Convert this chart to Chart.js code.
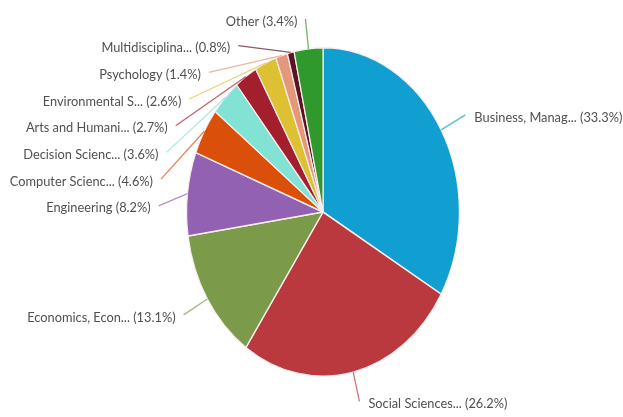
<!DOCTYPE html>
<html>
<head>
<meta charset="utf-8">
<title>Documents by subject area</title>
<script src="https://cdn.jsdelivr.net/npm/chart.js@4.4.0/dist/chart.umd.min.js"></script>
<style>
    html, body { margin: 0; padding: 0; background: #fff; }
    #wrap { width: 623px; height: 417px; }
</style>
</head>
<body>
<div id="wrap"><canvas id="subject-chart" width="623" height="417"></canvas></div>
<script>
// 数据
const subjectLabels = [
    'Business, Manag...', 'Social Sciences...', 'Economics, Econ...', 'Engineering',
    'Computer Scienc...', 'Decision Scienc...', 'Arts and Humani...', 'Environmental S...',
    'Psychology', 'Multidisciplina...', 'Other'
];
const subjectShares = [33.3, 26.2, 13.1, 8.2, 4.6, 3.6, 2.7, 2.6, 1.4, 0.8, 3.4];
const sliceColors = [
    '#119ed1', '#b9393f', '#7b9b4b', '#9261b2', '#da500b', '#82e2d3',
    '#a41f2d', '#dec133', '#e5977c', '#5b1421', '#2f992e'
];

// 饼图纵向拉伸比例
const stretchY = 1.204;

// 拉伸饼图（画成椭圆）
const stretchPlugin = {
    id: 'stretch',
    beforeDatasetsDraw(chart) {
        const arc = chart.getDatasetMeta(0).data[0];
        const ctx = chart.ctx;
        ctx.save();
        ctx.translate(arc.x, arc.y);
        ctx.scale(1, stretchY);
        ctx.translate(-arc.x, -arc.y);
    },
    afterDatasetsDraw(chart) {
        chart.ctx.restore();
    }
};

// 外部标签和引线
const outsideLabelPlugin = {
    id: 'outsideLabels',
    afterDraw(chart) {
        const ctx = chart.ctx;
        const arcs = chart.getDatasetMeta(0).data;
        const values = chart.data.datasets[0].data;
        const cx = arcs[0].x, cy = arcs[0].y;
        const rx = arcs[0].outerRadius, ry = rx * stretchY;
        const lx = rx + 28, ly = ry + 30;
        const spacing = 26.7;

        const items = arcs.map((arc, i) => {
            const mid = (arc.startAngle + arc.endAngle) / 2;
            const c = Math.cos(mid), s = Math.sin(mid);
            return {
                i: i,
                right: c >= 0,
                ex: cx + rx * c,
                ey: cy + ry * s,
                y: cy + ly * s
            };
        });

        // 每一侧按 y 排序并避免重叠
        [true, false].forEach(side => {
            const group = items.filter(it => it.right === side).sort((a, b) => a.y - b.y);
            for (let k = 1; k < group.length; k++) {
                group[k].y = Math.max(group[k].y, group[k - 1].y + spacing);
            }
        });

        ctx.save();
        ctx.font = '12.8px Lato, "Noto Sans", sans-serif';
        ctx.textBaseline = 'middle';
        items.forEach(it => {
            const dy = Math.max(-1, Math.min(1, (it.y - cy) / ly));
            const dx = lx * Math.sqrt(1 - dy * dy);
            const px = it.right ? cx + dx : cx - dx;

            ctx.strokeStyle = sliceColors[it.i];
            ctx.globalAlpha = 0.7;
            ctx.lineWidth = 1.3;
            ctx.beginPath();
            ctx.moveTo(it.ex, it.ey);
            ctx.lineTo(px, it.y);
            ctx.stroke();

            ctx.globalAlpha = 1;
            ctx.fillStyle = '#505050';
            ctx.textAlign = it.right ? 'left' : 'right';
            const text = subjectLabels[it.i] + ' (' + values[it.i].toFixed(1) + '%)';
            ctx.fillText(text, it.right ? px + 9 : px - 8, it.y + 2.5);
        });
        ctx.restore();
    }
};

new Chart(document.getElementById('subject-chart'), {
    type: 'pie',
    data: {
        labels: subjectLabels,
        datasets: [{
            data: subjectShares,
            backgroundColor: sliceColors,
            borderColor: '#f6eeee',
            borderWidth: 1.2,
            clip: false
        }]
    },
    options: {
        responsive: false,
        animation: false,
        layout: {
            padding: { left: 186, right: 163, top: 75, bottom: 68 }
        },
        plugins: {
            legend: { display: false },
            tooltip: { enabled: false }
        }
    },
    plugins: [stretchPlugin, outsideLabelPlugin]
});
</script>
</body>
</html>
